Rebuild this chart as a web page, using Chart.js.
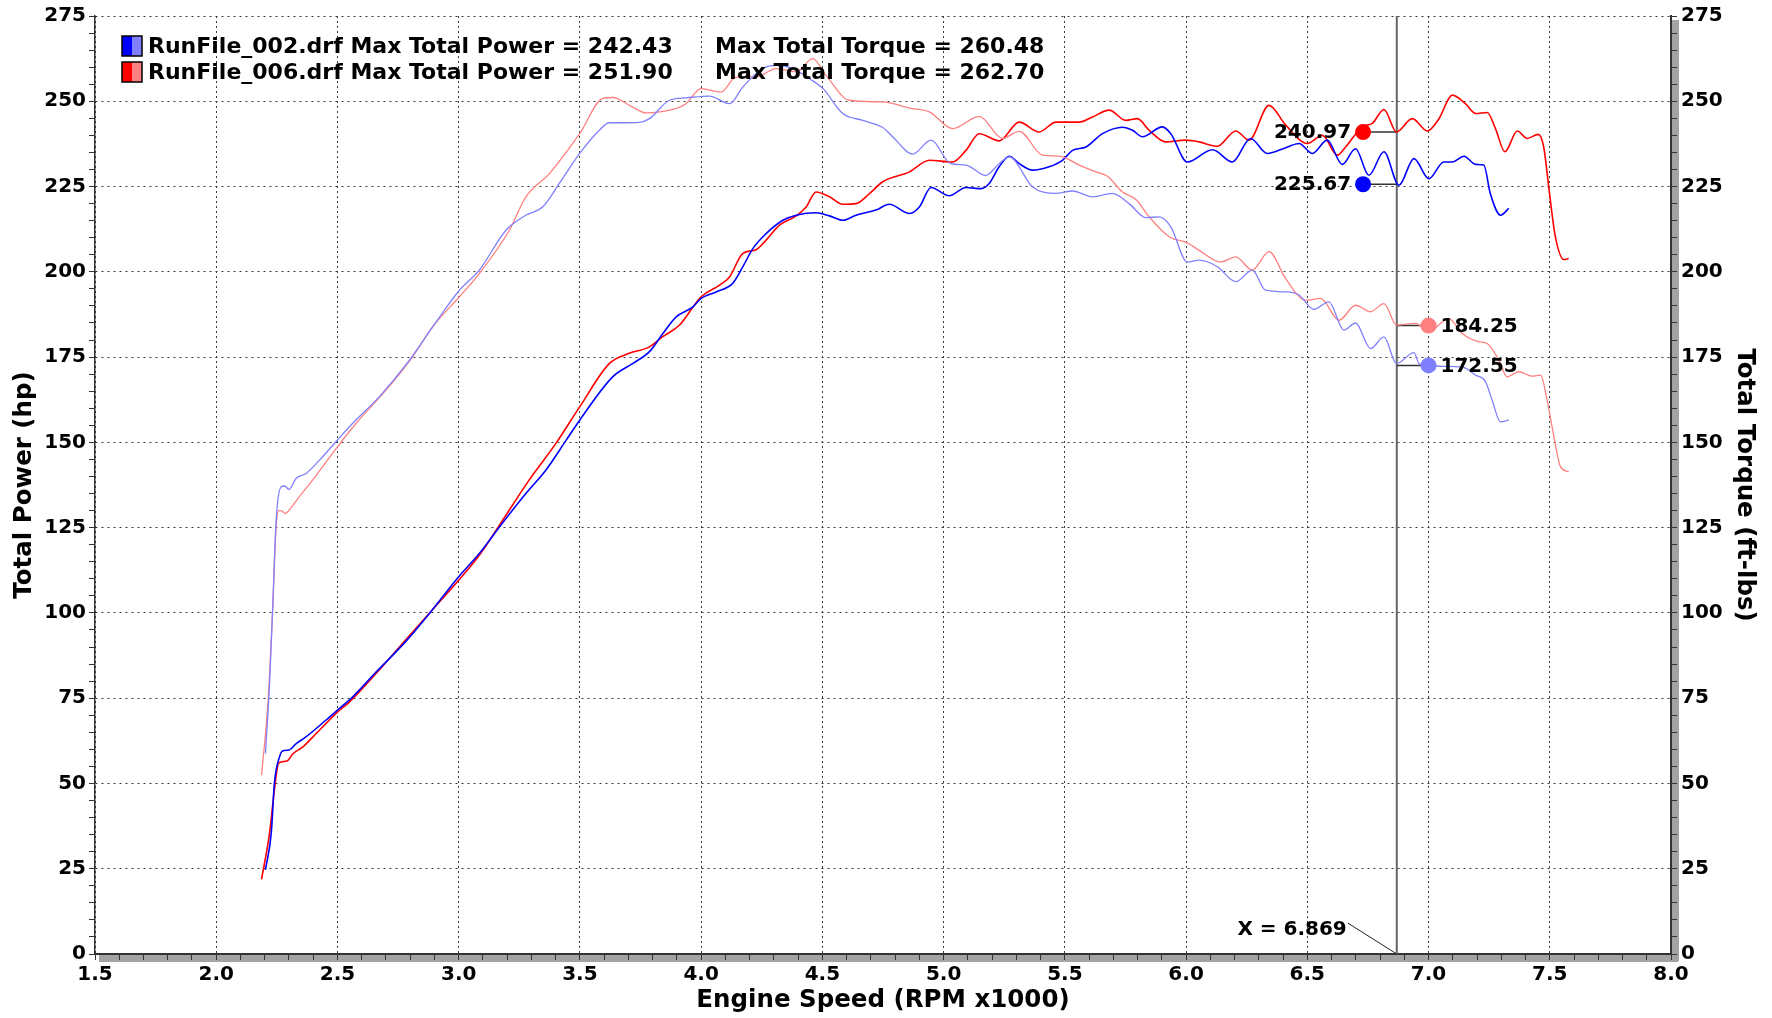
<!DOCTYPE html>
<html>
<head>
<meta charset="utf-8">
<title>Dyno comparison</title>
<script src="https://cdn.jsdelivr.net/npm/chart.js@4"></script>
<style>
  html, body { margin: 0; padding: 0; background: #fff; }
  #wrap { width: 1772px; height: 1018px; }
</style>
</head>
<body>
<div id="wrap"><canvas id="dyno" width="1772" height="1018"></canvas></div>
<script>
// legend text
const runNames = ['RunFile_002.drf', 'RunFile_006.drf'];
const maxPower = ['242.43', '251.90'];
const maxTorque = ['260.48', '262.70'];

// RunFile_002 total power (hp)
const bluePowerRpm = [2.203, 2.227, 2.24, 2.261, 2.275, 2.30, 2.33, 2.371, 2.453, 2.5, 2.563, 2.66, 2.78, 2.89, 3.0, 3.085, 3.168, 3.277, 3.36, 3.442, 3.499, 3.635, 3.717, 3.787, 3.842, 3.897, 3.966, 4.0, 4.062, 4.13, 4.172, 4.213, 4.268, 4.337, 4.392, 4.474, 4.529, 4.584, 4.639, 4.721, 4.776, 4.859, 4.9, 4.948, 5.023, 5.092, 5.154, 5.188, 5.229, 5.271, 5.312, 5.367, 5.435, 5.49, 5.532, 5.587, 5.655, 5.738, 5.779, 5.82, 5.902, 5.937, 6.005, 6.109, 6.191, 6.266, 6.335, 6.411, 6.466, 6.521, 6.582, 6.644, 6.699, 6.754, 6.816, 6.878, 6.94, 7.001, 7.063, 7.098, 7.146, 7.194, 7.228, 7.255, 7.297, 7.331];
const bluePower = [24.7, 35.5, 50.1, 57.8, 59.6, 59.8, 61.7, 63.7, 68.6, 71.5, 75.4, 82.7, 91.5, 100.8, 110.6, 117.4, 125.2, 135.0, 141.9, 150.5, 156.5, 169.2, 173.1, 176.6, 181.9, 186.8, 189.7, 192.2, 194.1, 196.6, 201.5, 206.8, 211.2, 215.1, 216.6, 217.3, 216.4, 215.1, 216.6, 218.1, 219.8, 217.1, 219.0, 224.7, 222.3, 224.7, 224.4, 225.9, 230.8, 233.9, 231.7, 229.8, 230.8, 232.7, 235.6, 236.6, 240.5, 242.4, 241.5, 239.6, 242.5, 240.5, 232.2, 235.8, 232.2, 239.1, 234.7, 236.4, 237.6, 234.7, 238.6, 231.5, 236.1, 228.3, 235.2, 225.4, 233.2, 227.3, 232.2, 232.2, 233.9, 231.5, 231.3, 222.9, 216.6, 218.6];

// RunFile_006 total power (hp)
const redPowerRpm = [2.187, 2.22, 2.24, 2.257, 2.275, 2.296, 2.316, 2.357, 2.398, 2.5, 2.551, 2.66, 2.78, 2.89, 3.0, 3.085, 3.168, 3.291, 3.401, 3.499, 3.621, 3.703, 3.787, 3.842, 3.911, 4.0, 4.076, 4.117, 4.172, 4.227, 4.268, 4.323, 4.392, 4.433, 4.474, 4.529, 4.584, 4.639, 4.694, 4.749, 4.859, 4.941, 5.037, 5.092, 5.147, 5.229, 5.312, 5.394, 5.463, 5.559, 5.614, 5.683, 5.751, 5.799, 5.848, 5.916, 5.999, 6.054, 6.129, 6.205, 6.26, 6.342, 6.411, 6.5, 6.562, 6.624, 6.658, 6.727, 6.768, 6.816, 6.868, 6.933, 6.995, 7.043, 7.098, 7.152, 7.194, 7.242, 7.276, 7.315, 7.366, 7.407, 7.452, 7.475, 7.499, 7.523, 7.558, 7.578];
const redPower = [21.9, 35.5, 48.2, 55.9, 56.4, 56.8, 58.7, 60.7, 63.6, 70.9, 74.0, 82.3, 92.0, 100.8, 109.6, 116.9, 125.7, 139.0, 149.7, 160.4, 173.1, 176.1, 178.0, 181.0, 184.4, 192.7, 196.1, 198.5, 205.4, 206.5, 209.3, 213.7, 216.4, 219.0, 223.4, 222.0, 219.8, 220.0, 222.9, 226.4, 229.3, 232.7, 232.2, 235.6, 240.5, 238.4, 243.9, 241.0, 243.9, 243.9, 245.4, 247.4, 244.4, 244.9, 241.5, 238.1, 238.6, 238.1, 236.8, 241.3, 238.6, 248.8, 243.0, 237.6, 240.0, 234.2, 236.6, 242.5, 243.5, 247.6, 241.0, 244.9, 241.3, 244.9, 251.8, 249.3, 246.4, 246.7, 242.0, 235.2, 241.3, 239.1, 240.3, 236.6, 222.9, 210.3, 203.6, 203.9];

// RunFile_002 total torque (ft-lbs)
const blueTorqueRpm = [2.203, 2.22, 2.234, 2.247, 2.268, 2.282, 2.3, 2.33, 2.371, 2.426, 2.5, 2.563, 2.673, 2.797, 2.893, 3.003, 3.085, 3.195, 3.277, 3.346, 3.415, 3.499, 3.58, 3.621, 3.69, 3.745, 3.787, 3.869, 3.938, 4.034, 4.117, 4.172, 4.254, 4.309, 4.378, 4.447, 4.503, 4.584, 4.666, 4.749, 4.79, 4.872, 4.948, 5.03, 5.092, 5.174, 5.229, 5.271, 5.367, 5.463, 5.532, 5.614, 5.696, 5.765, 5.834, 5.889, 5.937, 6.005, 6.054, 6.129, 6.205, 6.273, 6.328, 6.411, 6.466, 6.527, 6.589, 6.651, 6.699, 6.761, 6.816, 6.868, 6.94, 6.961, 7.001, 7.056, 7.139, 7.194, 7.235, 7.262, 7.297, 7.331];
const blueTorque = [58.8, 79.3, 103.7, 127.1, 137.0, 137.2, 136.2, 139.5, 140.9, 144.8, 150.7, 155.6, 163.4, 174.1, 183.9, 194.6, 200.5, 212.2, 216.6, 219.0, 225.9, 234.7, 241.5, 243.7, 243.7, 243.8, 244.9, 250.3, 251.0, 251.5, 249.3, 254.2, 259.6, 260.5, 259.6, 256.6, 253.7, 246.4, 244.4, 242.3, 239.6, 234.5, 238.6, 231.7, 231.3, 228.3, 231.7, 233.7, 224.9, 223.0, 223.7, 222.0, 223.0, 220.0, 215.9, 216.1, 213.2, 202.9, 203.4, 201.5, 197.1, 200.5, 194.6, 194.1, 193.2, 189.0, 191.2, 182.9, 185.0, 177.5, 180.9, 173.1, 176.3, 173.1, 172.6, 172.3, 172.1, 169.7, 167.8, 162.4, 156.0, 156.5];

// RunFile_006 total torque (ft-lbs)
const redTorqueRpm = [2.187, 2.214, 2.232, 2.247, 2.258, 2.268, 2.285, 2.31, 2.343, 2.398, 2.5, 2.577, 2.7, 2.81, 2.893, 3.003, 3.085, 3.209, 3.277, 3.374, 3.499, 3.593, 3.635, 3.717, 3.772, 3.882, 3.937, 4.0, 4.082, 4.144, 4.227, 4.309, 4.392, 4.46, 4.515, 4.611, 4.749, 4.859, 4.941, 5.037, 5.147, 5.243, 5.312, 5.408, 5.477, 5.559, 5.628, 5.676, 5.738, 5.793, 5.848, 5.93, 6.005, 6.054, 6.143, 6.205, 6.273, 6.342, 6.411, 6.493, 6.555, 6.631, 6.699, 6.761, 6.816, 6.868, 6.946, 6.999, 7.084, 7.139, 7.207, 7.242, 7.29, 7.324, 7.372, 7.427, 7.462, 7.489, 7.517, 7.544, 7.578];
const redTorque = [52.4, 74.4, 99.8, 125.2, 130.0, 130.0, 129.2, 131.0, 134.1, 139.0, 148.7, 155.6, 165.3, 175.1, 183.9, 192.7, 199.5, 212.2, 222.0, 228.8, 240.5, 250.8, 251.1, 248.3, 246.6, 247.6, 249.3, 253.7, 252.7, 257.1, 257.1, 259.6, 258.6, 262.5, 257.6, 250.3, 249.8, 248.0, 246.9, 242.0, 245.6, 239.1, 241.2, 234.2, 233.9, 231.3, 229.3, 228.0, 223.4, 221.2, 216.1, 210.3, 208.5, 206.3, 202.9, 204.4, 200.5, 205.9, 198.0, 191.7, 192.2, 185.8, 190.2, 188.3, 190.7, 184.4, 184.9, 182.4, 186.3, 181.9, 179.5, 179.0, 174.1, 169.2, 170.7, 169.4, 169.7, 162.4, 151.7, 142.9, 141.4];

// cursor readout
const cursorRpm = 6.869;
const markerRpm = [6.73, 6.73, 7.0, 7.0];
const markerValue = [240.97, 225.67, 184.25, 172.55];
const markerAxis = ['y', 'y', 'y1', 'y1'];

const FONT = 'DejaVu Sans';
const BLUE = '#0000ff', RED = '#ff0000', LBLUE = '#8080ff', LRED = '#ff8080';
const markerColors = [RED, BLUE, LRED, LBLUE];

const toPoints = (xs, ys) => xs.map((x, i) => ({ x: x, y: ys[i] }));
const isMajor = (v, step) => Math.abs(v / step - Math.round(v / step)) < 1e-6;

const curve = (label, xs, ys, color, width, axis) => ({
    label: label,
    data: toPoints(xs, ys),
    yAxisID: axis,
    showLine: true,
    borderColor: color,
    borderWidth: width,
    pointRadius: 0,
    cubicInterpolationMode: 'monotone'
});

const datasets = [
    curve('Torque 002', blueTorqueRpm, blueTorque, LBLUE, 1.3, 'y1'),
    curve('Torque 006', redTorqueRpm, redTorque, LRED, 1.3, 'y1'),
    curve('Power 002', bluePowerRpm, bluePower, BLUE, 1.6, 'y'),
    curve('Power 006', redPowerRpm, redPower, RED, 1.6, 'y')
];
markerRpm.forEach((x, i) => {
    datasets.push({
        label: 'marker ' + i,
        data: [{ x: x, y: markerValue[i] }],
        yAxisID: markerAxis[i],
        showLine: false,
        pointRadius: 8,
        pointBackgroundColor: markerColors[i],
        pointBorderWidth: 0
    });
});

const tickFont = { family: FONT, size: 20, weight: 'bold' };
const titleFont = { family: FONT, size: 24.5, weight: 'bold' };

// frame shadow, cursor line, readout labels and legend
const overlay = {
    id: 'overlay',
    beforeDraw(chart) {
        const { ctx, chartArea: a } = chart;
        ctx.save();
        ctx.fillStyle = '#a3a3a3';
        ctx.fillRect(a.left + 4, a.bottom + 1, a.right - a.left + 3, 7);
        ctx.fillRect(a.right + 1, a.top + 4, 7, a.bottom - a.top + 3);
        ctx.restore();
    },
    beforeDatasetsDraw(chart) {
        const { ctx, chartArea: a, scales } = chart;
        const cx = scales.x.getPixelForValue(cursorRpm);
        ctx.save();
        ctx.strokeStyle = '#666';
        ctx.lineWidth = 2;
        ctx.beginPath();
        ctx.moveTo(cx, a.top);
        ctx.lineTo(cx, a.bottom);
        ctx.stroke();
        ctx.strokeStyle = '#333';
        ctx.lineWidth = 1.5;
        markerRpm.forEach((x, i) => {
            const px = scales.x.getPixelForValue(x);
            const py = scales[markerAxis[i]].getPixelForValue(markerValue[i]);
            ctx.beginPath();
            ctx.moveTo(px, py);
            ctx.lineTo(cx, py);
            ctx.stroke();
        });
        ctx.restore();
    },
    afterDatasetsDraw(chart) {
        const { ctx, chartArea: a, scales } = chart;
        const cx = scales.x.getPixelForValue(cursorRpm);
        ctx.save();
        ctx.font = 'bold 20px "' + FONT + '"';
        ctx.fillStyle = '#000';
        ctx.textBaseline = 'middle';
        markerRpm.forEach((x, i) => {
            const px = scales.x.getPixelForValue(x);
            const py = scales[markerAxis[i]].getPixelForValue(markerValue[i]);
            const txt = markerValue[i].toFixed(2);
            if (px < cx) {
                ctx.textAlign = 'right';
                ctx.fillText(txt, px - 12, py + 1);
            } else {
                ctx.textAlign = 'left';
                ctx.fillText(txt, px + 12, py + 1);
            }
        });
        // X = readout near the axis
        const tx = cx - 50, ty = a.bottom - 24;
        ctx.textAlign = 'right';
        ctx.fillText('X = ' + cursorRpm.toFixed(3), tx, ty);
        ctx.strokeStyle = '#222';
        ctx.lineWidth = 1;
        ctx.beginPath();
        ctx.moveTo(tx + 1, ty - 7);
        ctx.lineTo(cx, a.bottom);
        ctx.stroke();
        ctx.restore();
    },
    afterDraw(chart) {
        const { ctx, chartArea: a } = chart;
        const dark = [BLUE, RED], light = [LBLUE, LRED];
        ctx.save();
        ctx.font = 'bold 22px "' + FONT + '"';
        ctx.textBaseline = 'middle';
        ctx.textAlign = 'left';
        ctx.fillStyle = '#000';
        runNames.forEach((name, i) => {
            const cy = a.top + 30 + i * 26;
            const bx = a.left + 27, by = cy - 10;
            ctx.fillStyle = dark[i];
            ctx.fillRect(bx, by, 10, 20);
            ctx.fillStyle = light[i];
            ctx.fillRect(bx + 10, by, 10, 20);
            ctx.strokeStyle = '#000';
            ctx.lineWidth = 1.5;
            ctx.strokeRect(bx, by, 20, 20);
            ctx.fillStyle = '#000';
            ctx.fillText(name + ' Max Total Power = ' + maxPower[i], bx + 26, cy + 1);
            ctx.fillText('Max Total Torque = ' + maxTorque[i], a.left + 620, cy + 1);
        });
        ctx.restore();
    }
};

const yAxis = (position, title, width, titlePad, onArea) => ({
    type: 'linear',
    position: position,
    min: 0,
    max: 275,
    afterFit: s => { s.width = width; },
    ticks: {
        stepSize: 5,
        autoSkip: false,
        padding: position === 'left' ? 3 : 4,
        color: '#000',
        font: tickFont,
        callback: v => isMajor(v, 25) ? String(v) : ''
    },
    grid: {
        drawOnChartArea: onArea,
        color: c => (c.tick && isMajor(c.tick.value, 25)) ? '#3a3a3a' : 'rgba(0,0,0,0)',
        lineWidth: 1,
        tickLength: 6,
        tickColor: '#333',
        tickWidth: 1
    },
    border: { color: '#333', width: position === 'left' ? 1.5 : 2, dash: [2, 4] },
    title: { display: true, text: title, color: '#000', font: titleFont, padding: { top: titlePad, bottom: 0 } }
});

new Chart(document.getElementById('dyno'), {
    type: 'scatter',
    data: { datasets: datasets },
    options: {
        responsive: false,
        animation: false,
        layout: { padding: { top: 16, left: 0, right: 0, bottom: 0 } },
        plugins: { legend: { display: false }, tooltip: { enabled: false } },
        scales: {
            x: {
                type: 'linear',
                min: 1.5,
                max: 8.0,
                afterFit: s => { s.height = 64; },
                ticks: {
                    stepSize: 0.1,
                    autoSkip: false,
                    maxRotation: 0,
                    padding: 3,
                    color: '#000',
                    font: tickFont,
                    callback: v => isMajor(v, 0.5) ? v.toFixed(1) : ''
                },
                grid: {
                    color: c => (c.tick && isMajor(c.tick.value, 0.5)) ? '#3a3a3a' : 'rgba(0,0,0,0)',
                    lineWidth: 1,
                    tickLength: 6,
                    tickColor: '#333',
                    tickWidth: 1
                },
                border: { color: '#333', width: 2, dash: [2, 3] },
                title: { display: true, text: 'Engine Speed (RPM x1000)', color: '#000', font: titleFont, padding: { top: 0, bottom: 3 } }
            },
            y: yAxis('left', 'Total Power (hp)', 95, 10, true),
            y1: yAxis('right', 'Total Torque (ft-lbs)', 101, 13, false)
        }
    },
    plugins: [overlay]
});
</script>
</body>
</html>
